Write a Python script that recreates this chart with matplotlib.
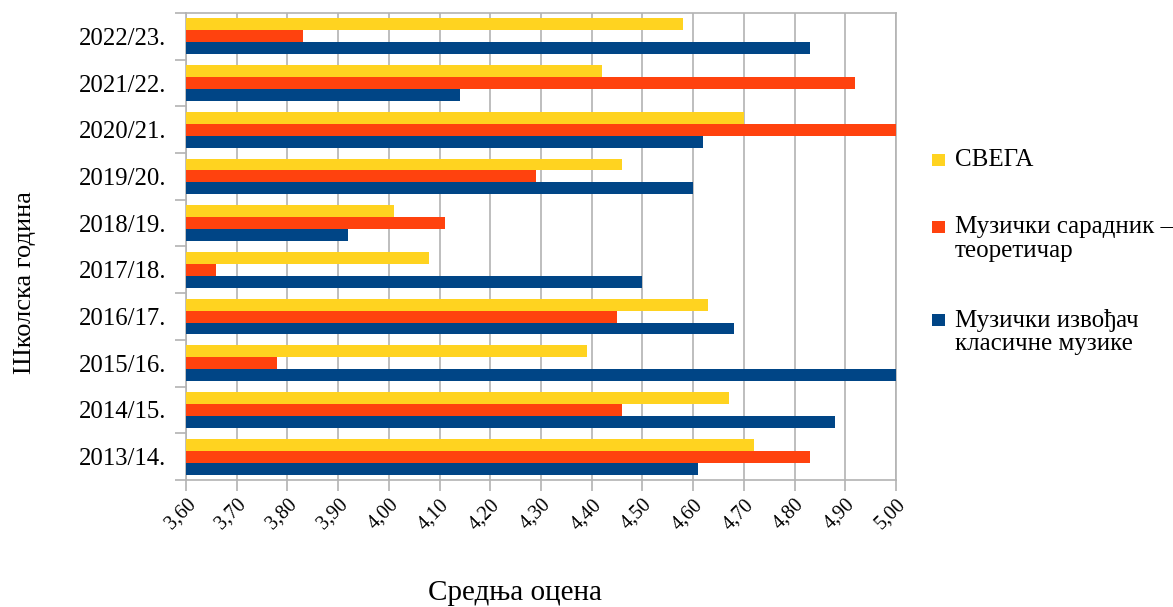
import matplotlib
matplotlib.use("Agg")
import matplotlib.pyplot as plt
import numpy as np
from matplotlib.patches import Rectangle
from matplotlib.ticker import FuncFormatter, FixedLocator

plt.rcParams['font.family'] = ['Liberation Serif', 'DejaVu Serif']

years = ["2013/14.", "2014/15.", "2015/16.", "2016/17.", "2017/18.",
         "2018/19.", "2019/20.", "2020/21.", "2021/22.", "2022/23."]
svega = [4.72, 4.67, 4.39, 4.63, 4.08, 4.01, 4.46, 4.70, 4.42, 4.58]
saradnik = [4.83, 4.46, 3.78, 4.45, 3.66, 4.11, 4.29, 5.00, 4.92, 3.83]
izvodjac = [4.61, 4.88, 5.00, 4.68, 4.50, 3.92, 4.60, 4.62, 4.14, 4.83]
xticks = [3.6, 3.7, 3.8, 3.9, 4.0, 4.1, 4.2, 4.3, 4.4, 4.5, 4.6, 4.7, 4.8, 4.9, 5.0]

names = [["СВЕГА"], ["Музички сарадник –", "теоретичар"], ["Музички извођач", "класичне музике"]]
colors = ["#FFD320", "#FF420E", "#004586"]

W, H = 1173, 607
fig = plt.figure(figsize=(W / 100, H / 100), dpi=100)
ax = fig.add_axes([186 / W, 1 - 480 / H, (896 - 186) / W, (480 - 13) / H])

y = np.arange(len(years))
h = 0.255
xmin = 3.6
for vals, off, c in [(svega, h, colors[0]), (saradnik, 0, colors[1]), (izvodjac, -h, colors[2])]:
    ax.barh(y + off, np.array(vals) - xmin, left=xmin, height=h, color=c, zorder=3)

ax.set_xlim(3.6, 5.0)
ax.set_ylim(-0.5, len(years) - 0.5)
ax.xaxis.set_major_locator(FixedLocator(xticks))
ax.xaxis.set_major_formatter(FuncFormatter(lambda v, p: f"{v:.2f}".replace('.', ',')))
ax.set_yticks(y)
ax.set_yticklabels(years, fontsize=17.8)
ax.set_yticks(np.arange(-0.5, len(years)), minor=True)
ax.tick_params(axis='y', which='major', length=0, pad=14)
ax.tick_params(axis='y', which='minor', length=8, color='#b3b3b3', width=1.2)
ax.tick_params(axis='x', length=8, color='#b3b3b3', width=1.2, labelsize=14.5, pad=3)
for lbl in ax.get_xticklabels():
    lbl.set_rotation(45)
    lbl.set_ha('right')
    lbl.set_va('top')
    lbl.set_rotation_mode('anchor')

ax.grid(axis='x', color='#b3b3b3', linewidth=1.2, zorder=0)
for s in ax.spines.values():
    s.set_color('#b3b3b3')
    s.set_linewidth(1.2)

fig.text(515 / W, 1 - 593 / H, "Средња оцена", fontsize=21, ha='center', va='center')
fig.text(25 / W, 1 - 283 / H, "Школска година", fontsize=19, ha='center', va='center',
         rotation=90)

# legend drawn by hand to match the reference spacing
entry_y = [160, 227, 320]
line_gap = 24
for lines, c, yc in zip(names, colors, entry_y):
    fig.patches.append(Rectangle((932 / W, 1 - (yc + 6) / H), 13 / W, 12 / H,
                                 transform=fig.transFigure, facecolor=c, edgecolor='none'))
    for i, t in enumerate(lines):
        fig.text(955 / W, 1 - (yc + i * line_gap) / H, t, fontsize=18,
                 ha='left', va='center')

fig.savefig("out.png", dpi=100)
